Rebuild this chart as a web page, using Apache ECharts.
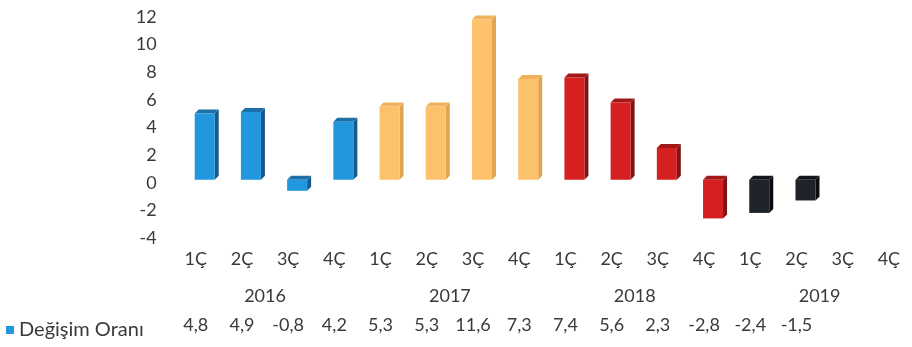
<!DOCTYPE html>
<html>
<head>
<meta charset="utf-8">
<script src="https://cdn.jsdelivr.net/npm/echarts@6/dist/echarts.min.js"></script>
<style>
  html, body { margin: 0; padding: 0; background: #ffffff; }
  #chart { width: 912px; height: 347px; }
</style>
</head>
<body>
<div id="chart"></div>
<script>
// Quarterly change rate, 2016–2019
const quarters = ['1Ç', '2Ç', '3Ç', '4Ç', '1Ç', '2Ç', '3Ç', '4Ç', '1Ç', '2Ç', '3Ç', '4Ç', '1Ç', '2Ç', '3Ç', '4Ç'];
const years = ['2016', '2017', '2018', '2019'];
const seriesName = 'Değişim Oranı';
const changeRate = [4.8, 4.9, -0.8, 4.2, 5.3, 5.3, 11.6, 7.3, 7.4, 5.6, 2.3, -2.8, -2.4, -1.5, null, null];
const yTicks = { min: -4, max: 12, step: 2 };

// Face colours per year: [front, side, top]
const yearFaces = [
  ['#2297de', '#17598a', '#1d6fa8'],
  ['#fcc16a', '#e2a44e', '#f0b25c'],
  ['#d61f20', '#7e1514', '#a01818'],
  ['#1d2329', '#0a0d10', '#12171b']
];

const FONT = 'Lato, "Open Sans", sans-serif';
const TXT = '#3a3a3a';
const FRONT_W = 20;   // front face width
const DEPTH = 4;      // 3D depth offset
const LIFT = -3;      // floor sits slightly above the axis zero

const chart = echarts.init(document.getElementById('chart'), null, { renderer: 'canvas' });

const fmt = v => (v === null || v === undefined) ? '' : String(v).replace('.', ',');

function renderBar(params, api) {
  const idx = api.value(0);
  const v = api.value(1);
  if (v === null || v === undefined || isNaN(v)) return;
  const base = api.coord([idx, 0]);
  const tip = api.coord([idx, v]);
  const faces = yearFaces[Math.floor(idx / 4)];
  const x0 = base[0] - 1;
  const x1 = x0 + FRONT_W;
  const yTop = Math.min(base[1], tip[1]) + LIFT;
  const yBot = Math.max(base[1], tip[1]) + LIFT;
  return {
    type: 'group',
    children: [
      {
        type: 'polygon',
        shape: { points: [[x1, yTop], [x1 + DEPTH, yTop - DEPTH], [x1 + DEPTH, yBot - DEPTH], [x1, yBot]] },
        style: { fill: faces[1] }
      },
      {
        type: 'polygon',
        shape: { points: [[x0, yTop], [x0 + DEPTH, yTop - DEPTH], [x1 + DEPTH, yTop - DEPTH], [x1, yTop]] },
        style: { fill: faces[2] }
      },
      {
        type: 'rect',
        shape: { x: x0, y: yTop, width: FRONT_W, height: yBot - yTop },
        style: { fill: faces[0] }
      }
    ]
  };
}

const hiddenAxisParts = {
  axisLine: { show: false },
  axisTick: { show: false },
  splitLine: { show: false }
};

const option = {
  backgroundColor: '#ffffff',
  animation: false,
  grid: { left: 172.6, top: 17, width: 749, height: 221 },
  legend: {
    data: [seriesName],
    left: 1,
    top: 315,
    icon: 'rect',
    itemWidth: 8,
    itemHeight: 8,
    itemGap: 4,
    textStyle: { fontFamily: FONT, fontSize: 20, color: TXT }
  },
  xAxis: [
    Object.assign({
      type: 'category',
      data: quarters,
      position: 'bottom',
      axisLabel: { margin: 12, fontFamily: FONT, fontSize: 18, color: TXT, interval: 0 }
    }, hiddenAxisParts),
    Object.assign({
      type: 'category',
      data: years,
      position: 'bottom',
      offset: 37,
      axisLabel: { margin: 12, fontFamily: FONT, fontSize: 18, color: TXT, interval: 0 }
    }, hiddenAxisParts),
    Object.assign({
      type: 'category',
      data: changeRate.map(fmt),
      position: 'bottom',
      offset: 66,
      axisLabel: { margin: 12, fontFamily: FONT, fontSize: 18, color: TXT, interval: 0 }
    }, hiddenAxisParts)
  ],
  yAxis: Object.assign({
    type: 'value',
    min: yTicks.min,
    max: yTicks.max,
    interval: yTicks.step,
    axisLabel: { margin: 16, fontFamily: FONT, fontSize: 18, color: TXT }
  }, hiddenAxisParts),
  series: [{
    name: seriesName,
    type: 'custom',
    xAxisIndex: 0,
    yAxisIndex: 0,
    itemStyle: { color: '#2297de' },
    renderItem: renderBar,
    data: changeRate.map((v, i) => [i, v])
  }]
};

chart.setOption(option);
</script>
</body>
</html>
